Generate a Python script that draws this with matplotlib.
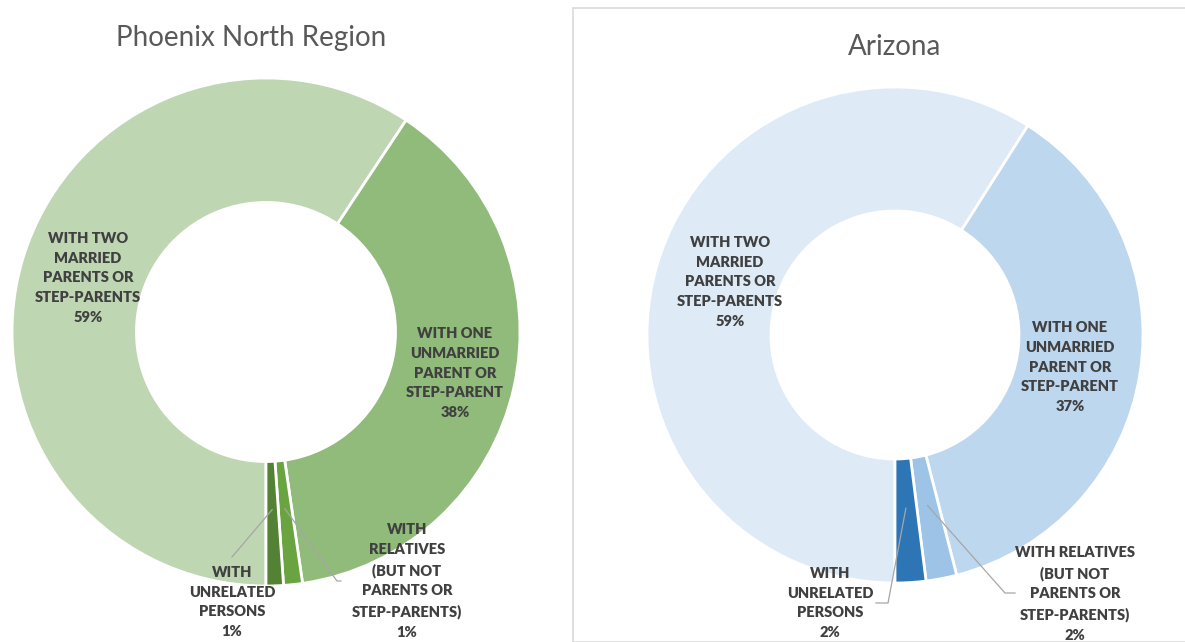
import numpy as np
import matplotlib.pyplot as plt
from matplotlib.patches import Rectangle

W, H = 1185, 642

categories = [
    "WITH TWO\nMARRIED\nPARENTS OR\nSTEP-PARENTS",
    "WITH ONE\nUNMARRIED\nPARENT OR\nSTEP-PARENT",
    "WITH\nRELATIVES\n(BUT NOT\nPARENTS OR\nSTEP-PARENTS)",
    "WITH\nUNRELATED\nPERSONS",
]
phoenix_values = [59.3, 38.4, 1.2, 1.1]
phoenix_labels = ["59%", "38%", "1%", "1%"]
arizona_values = [59, 37, 2, 2]
arizona_labels = ["59%", "37%", "2%", "2%"]

green = ["#bfd6b3", "#91bb7a", "#69a441", "#548235"]
blue = ["#deebf7", "#bdd7ee", "#9dc3e6", "#2e75b6"]

TXT = "#404040"
plt.rcParams['font.family'] = ['Lato', 'DejaVu Sans']


def _axes(fig, cx, cy, r):
    ax = fig.add_axes([(cx - r) / W, (H - cy - r) / H, 2 * r / W, 2 * r / H])
    ax.axis('off')
    return ax


def _donut(ax, values, colors, hole):
    wedges, _ = ax.pie(values, colors=colors, startangle=-90, counterclock=False,
                       radius=1, wedgeprops=dict(width=hole, edgecolor='white', linewidth=2))
    ax.set_xlim(-1, 1)
    ax.set_ylim(-1, 1)
    ax.set_aspect('equal')
    return wedges


def _mid(wedge, rr):
    a = np.deg2rad((wedge.theta1 + wedge.theta2) / 2)
    return rr * np.cos(a), rr * np.sin(a)


def _label(ax, x, y, text, pct):
    ax.text(x, y, text + "\n" + pct, ha='center', va='center', fontsize=10.5,
            fontweight='heavy', color=TXT, linespacing=1.6)


def _leader(ax, wedge, pts):
    x0, y0 = _mid(wedge, 0.7)
    xs = [x0] + [p[0] for p in pts]
    ys = [y0] + [p[1] for p in pts]
    ax.plot(xs, ys, color='#a6a6a6', lw=0.9, clip_on=False)


fig = plt.figure(figsize=(W / 100, H / 100), dpi=100)
fig.patches.append(Rectangle((573 / W, 0), 1, (H - 8) / H, transform=fig.transFigure,
                             facecolor='white', edgecolor='#d9d9d9', lw=1.2, zorder=-5))

# left donut
r1 = 254
ax1 = _axes(fig, 266, 332, r1)
w1 = _donut(ax1, phoenix_values, green, 0.49)
fig.text(251 / W, 1 - 38 / H, "Phoenix North Region", ha='center', va='center',
         fontsize=20, color='#595959')
_label(ax1, (88 - 266) / r1, (332 - 278) / r1, categories[0], phoenix_labels[0])
_label(ax1, (455 - 266) / r1, (332 - 373) / r1, categories[1], phoenix_labels[1])
_label(ax1, (407 - 266) / r1, (332 - 581) / r1, categories[2], phoenix_labels[2])
_label(ax1, (232 - 266) / r1, (332 - 602) / r1, categories[3], phoenix_labels[3])
_leader(ax1, w1[2], [((337 - 266) / r1, (332 - 581) / r1), ((341 - 266) / r1, (332 - 581) / r1)])
_leader(ax1, w1[3], [((232 - 266) / r1, (332 - 557) / r1)])

# right donut
r2 = 248
ax2 = _axes(fig, 895, 335, r2)
w2 = _donut(ax2, arizona_values, blue, 0.5)
fig.text(895 / W, 1 - 47 / H, "Arizona", ha='center', va='center',
         fontsize=20, color='#595959')
_label(ax2, (730 - 895) / r2, (335 - 282) / r2, categories[0], arizona_labels[0])
_label(ax2, (1070 - 895) / r2, (335 - 367) / r2, categories[1], arizona_labels[1])
_label(ax2, (1075 - 895) / r2, (335 - 594) / r2, "WITH RELATIVES\n(BUT NOT\nPARENTS OR\nSTEP-PARENTS)",
       arizona_labels[2])
_label(ax2, (830 - 895) / r2, (335 - 603) / r2, categories[3], arizona_labels[3])
_leader(ax2, w2[2], [((1005 - 895) / r2, (335 - 593) / r2), ((1015 - 895) / r2, (335 - 593) / r2)])
_leader(ax2, w2[3], [((888 - 895) / r2, (335 - 603) / r2), ((876 - 895) / r2, (335 - 603) / r2)])

fig.savefig("out.png", dpi=100, facecolor='white')
